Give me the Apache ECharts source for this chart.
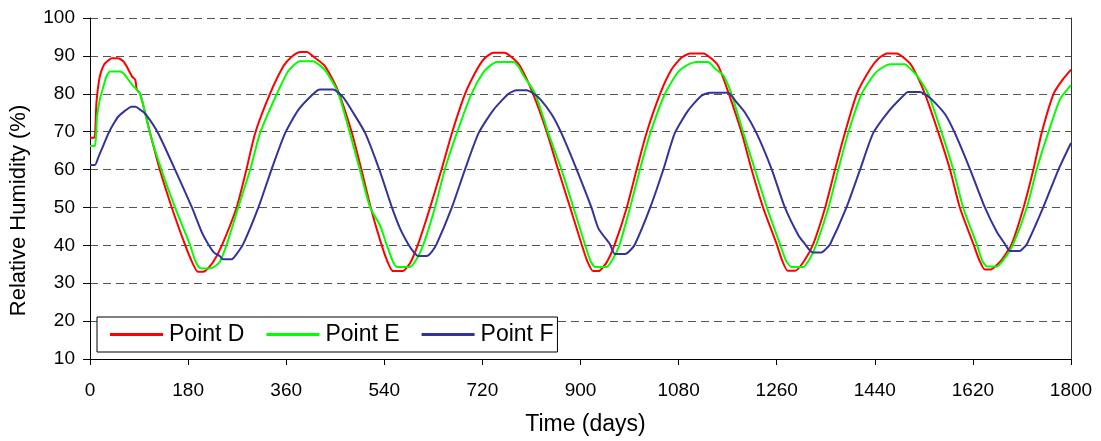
<!DOCTYPE html>
<html>
<head>
<meta charset="utf-8">
<script src="https://cdn.jsdelivr.net/npm/echarts@6/dist/echarts.min.js"></script>
<style>
html,body{margin:0;padding:0;background:#fff;}
#chart{width:1101px;height:441px;}
</style>
</head>
<body>
<div id="chart"></div>
<script>
const seriesNames = ['Point D', 'Point E', 'Point F'];
const xTicks = [0, 180, 360, 540, 720, 900, 1080, 1260, 1440, 1620, 1800];
const yTicks = [10, 20, 30, 40, 50, 60, 70, 80, 90, 100];

const pointD = [[0,68.4],[8,68.4],[12,78],[18,84.6],[25,87.5],[31,88.5],[40,89.4],[51,89.4],[61,88.6],[67,87.3],[77,84.6],[83,83.7],[86,81.1],[92,80],[110,69.8],[128,60],[150,50],[174,40.3],[186,36],[198,33],[211,33.2],[226,35.6],[242,40],[269,50],[287,60],[303,69.6],[330,79.9],[355,87.3],[370,89.8],[385,91],[398,91],[410,89.8],[431,87.3],[453,81.5],[480,70],[498,60],[515,50],[532,41.5],[545,36],[556,33.2],[574,33.2],[588,35.5],[602,40.3],[624,50],[645,60],[664,69.6],[688,79.9],[710,86.4],[725,89.5],[740,90.8],[760,90.8],[775,89.5],[789,87.3],[813,80],[838,70],[859,60],[881,50],[902,40.3],[912,36],[923,33.2],[933,33.2],[948,35.5],[963,40.3],[985,50],[1003,60],[1021,69.6],[1046,80],[1067,86.4],[1085,89.5],[1101,90.6],[1125,90.6],[1140,89.3],[1153,87.3],[1171,80.5],[1196,69.6],[1214,60],[1235,50],[1260,40.3],[1270,36],[1280,33.3],[1294,33.3],[1310,35.8],[1327,40.3],[1349,50],[1367,60],[1385,69.6],[1407,80],[1431,86.4],[1448,89.5],[1462,90.6],[1480,90.6],[1495,89.3],[1508,87.3],[1532,80],[1557,69.6],[1578,60],[1596,50],[1621,40.3],[1632,36],[1642,33.6],[1654,33.7],[1672,36],[1691,40.3],[1713,50],[1731,60],[1746,69.6],[1768,80],[1785,83.8],[1800,86.4]];

const pointE = [[0,66.2],[9,66.2],[13,74],[18,78.5],[24,81.6],[30,84.5],[37,85.9],[55,85.9],[64,85],[77,82.4],[92,80],[110,69.6],[131,60],[156,50],[183,40.3],[193,36],[202,34],[214,33.9],[226,34.2],[238,35.6],[251,40.3],[272,50],[294,60],[312,69.6],[343,80],[364,86],[385,88.6],[409,88.6],[422,87.5],[434,85.7],[456,80],[477,69.6],[495,60],[514,50],[532,45.3],[544,40.3],[555,36],[563,34.3],[587,34.3],[600,36.5],[612,40.3],[633,50],[651,60],[673,69.6],[700,80],[722,85.7],[735,87.5],[746,88.4],[777,88.4],[787,87],[795,84.9],[817,80],[841,69.6],[865,60],[887,50],[908,40.3],[918,36],[927,34.3],[948,34.3],[960,36.5],[972,40.3],[991,50],[1009,60],[1028,69.6],[1055,80],[1079,85.7],[1095,87.5],[1113,88.4],[1134,88.4],[1148,86.5],[1162,84.9],[1177,80],[1199,69.6],[1220,60],[1242,50],[1266,40.3],[1277,36],[1287,34.3],[1309,34.3],[1321,36.5],[1333,40.3],[1355,50],[1373,60],[1391,69.6],[1416,80],[1440,85.3],[1455,87],[1468,87.8],[1495,87.8],[1506,86.5],[1517,84.9],[1538,80],[1563,69.6],[1584,60],[1602,50],[1627,40.3],[1637,36],[1646,34.4],[1664,34.4],[1678,36.5],[1694,40.3],[1719,50],[1737,60],[1758,69.6],[1780,78.6],[1800,82.3]];

const pointF = [[0,61.2],[9,61.2],[16,63.5],[24,66.2],[34,69.6],[43,72],[52,74],[64,75.5],[76,76.6],[84,76.6],[92,75.8],[101,74.8],[125,69.6],[156,60],[187,50],[205,43.5],[217,40.3],[228,38],[238,37.2],[244,36.3],[260,36.3],[268,37.5],[281,40.3],[309,50],[333,60],[358,69.6],[382,75.7],[410,80],[422,81.1],[446,81.1],[465,79],[483,75],[505,69.6],[532,59.5],[554,50],[569,44.4],[584,40.3],[594,38.2],[602,37.2],[618,37.2],[627,38.3],[636,40.3],[664,50],[688,60],[713,69.6],[740,75.7],[768,80],[783,80.9],[801,80.9],[814,80],[826,78.6],[847,74.6],[865,69.6],[893,60],[920,50],[933,44.4],[954,40.3],[963,37.7],[982,37.7],[990,38.5],[1000,40.3],[1028,50],[1052,60],[1073,69.6],[1098,75.7],[1122,79.5],[1138,80.3],[1171,80.3],[1185,78],[1202,75],[1223,69.6],[1251,60],[1275,50],[1300,42.6],[1312,40.3],[1320,38.8],[1327,38.1],[1342,38.1],[1350,39],[1358,40.3],[1388,50],[1413,60],[1437,69.6],[1465,75.3],[1489,79],[1501,80.5],[1523,80.5],[1533,79.8],[1544,78.6],[1569,74.6],[1587,69.6],[1615,60],[1642,50],[1664,43.5],[1679,40.3],[1688,38.5],[1706,38.5],[1712,39.2],[1719,40.3],[1749,50],[1777,60],[1800,67]];

const colors = ['#ff0000', '#00ff00', '#333399'];
const FONT = 'Liberation Sans, Arial, sans-serif';

const chart = echarts.init(document.getElementById('chart'), null, {renderer: 'canvas'});
const mk = (name, data, i) => ({
  name, type: 'line', data, showSymbol: false, symbol: 'none',
  smooth: 0.2,
  lineStyle: {color: colors[i], width: 2}, itemStyle: {color: colors[i]},
  animation: false
});
chart.setOption({
  animation: false,
  textStyle: {fontFamily: FONT},
  grid: {left: 90, right: 30, top: 18, bottom: 80, containLabel: false},
  legend: {
    left: 97, top: 317,
    padding: [6, 4, 6, 13],
    itemWidth: 53, itemHeight: 3, itemGap: 22,
    icon: 'rect',
    borderColor: '#000', borderWidth: 1, backgroundColor: '#fff',
    textStyle: {fontSize: 23, color: '#000', fontFamily: FONT, padding: [0, 0, 0, 1]},
    data: seriesNames
  },
  xAxis: {
    type: 'value', min: xTicks[0], max: xTicks[xTicks.length - 1], interval: 180,
    name: 'Time (days)', nameLocation: 'middle', nameGap: 54,
    nameTextStyle: {fontSize: 23, color: '#000', fontFamily: FONT, padding: [0, 0, 0, 10]},
    axisLine: {show: true, onZero: false, lineStyle: {color: '#000', width: 1}},
    axisTick: {show: true, inside: false, length: 6, lineStyle: {color: '#000'}},
    axisLabel: {fontSize: 19, color: '#000', margin: 22, fontFamily: FONT, formatter: v => String(v)},
    splitLine: {show: false}
  },
  yAxis: [{
    type: 'value', min: yTicks[0], max: yTicks[yTicks.length - 1], interval: 10,
    name: 'Relative Humidity (%)', nameLocation: 'middle', nameGap: 60,
    nameTextStyle: {fontSize: 22, color: '#000', fontFamily: FONT, padding: [0, 44, 0, 0]},
    axisLine: {show: true, onZero: false, lineStyle: {color: '#000', width: 1}},
    axisTick: {show: true, inside: false, length: 7, lineStyle: {color: '#000'}},
    axisLabel: {fontSize: 19, color: '#000', margin: 15, fontFamily: FONT},
    splitLine: {show: true, lineStyle: {color: '#555', width: 1, type: [8, 5]}}
  }, {
    type: 'value', position: 'right', min: yTicks[0], max: yTicks[yTicks.length - 1], interval: 10,
    axisLine: {show: true, onZero: false, lineStyle: {color: '#333', width: 1}},
    axisTick: {show: false}, axisLabel: {show: false}, splitLine: {show: false}
  }],
  series: [mk(seriesNames[0], pointD, 0), mk(seriesNames[1], pointE, 1), mk(seriesNames[2], pointF, 2)]
});
</script>
</body>
</html>
